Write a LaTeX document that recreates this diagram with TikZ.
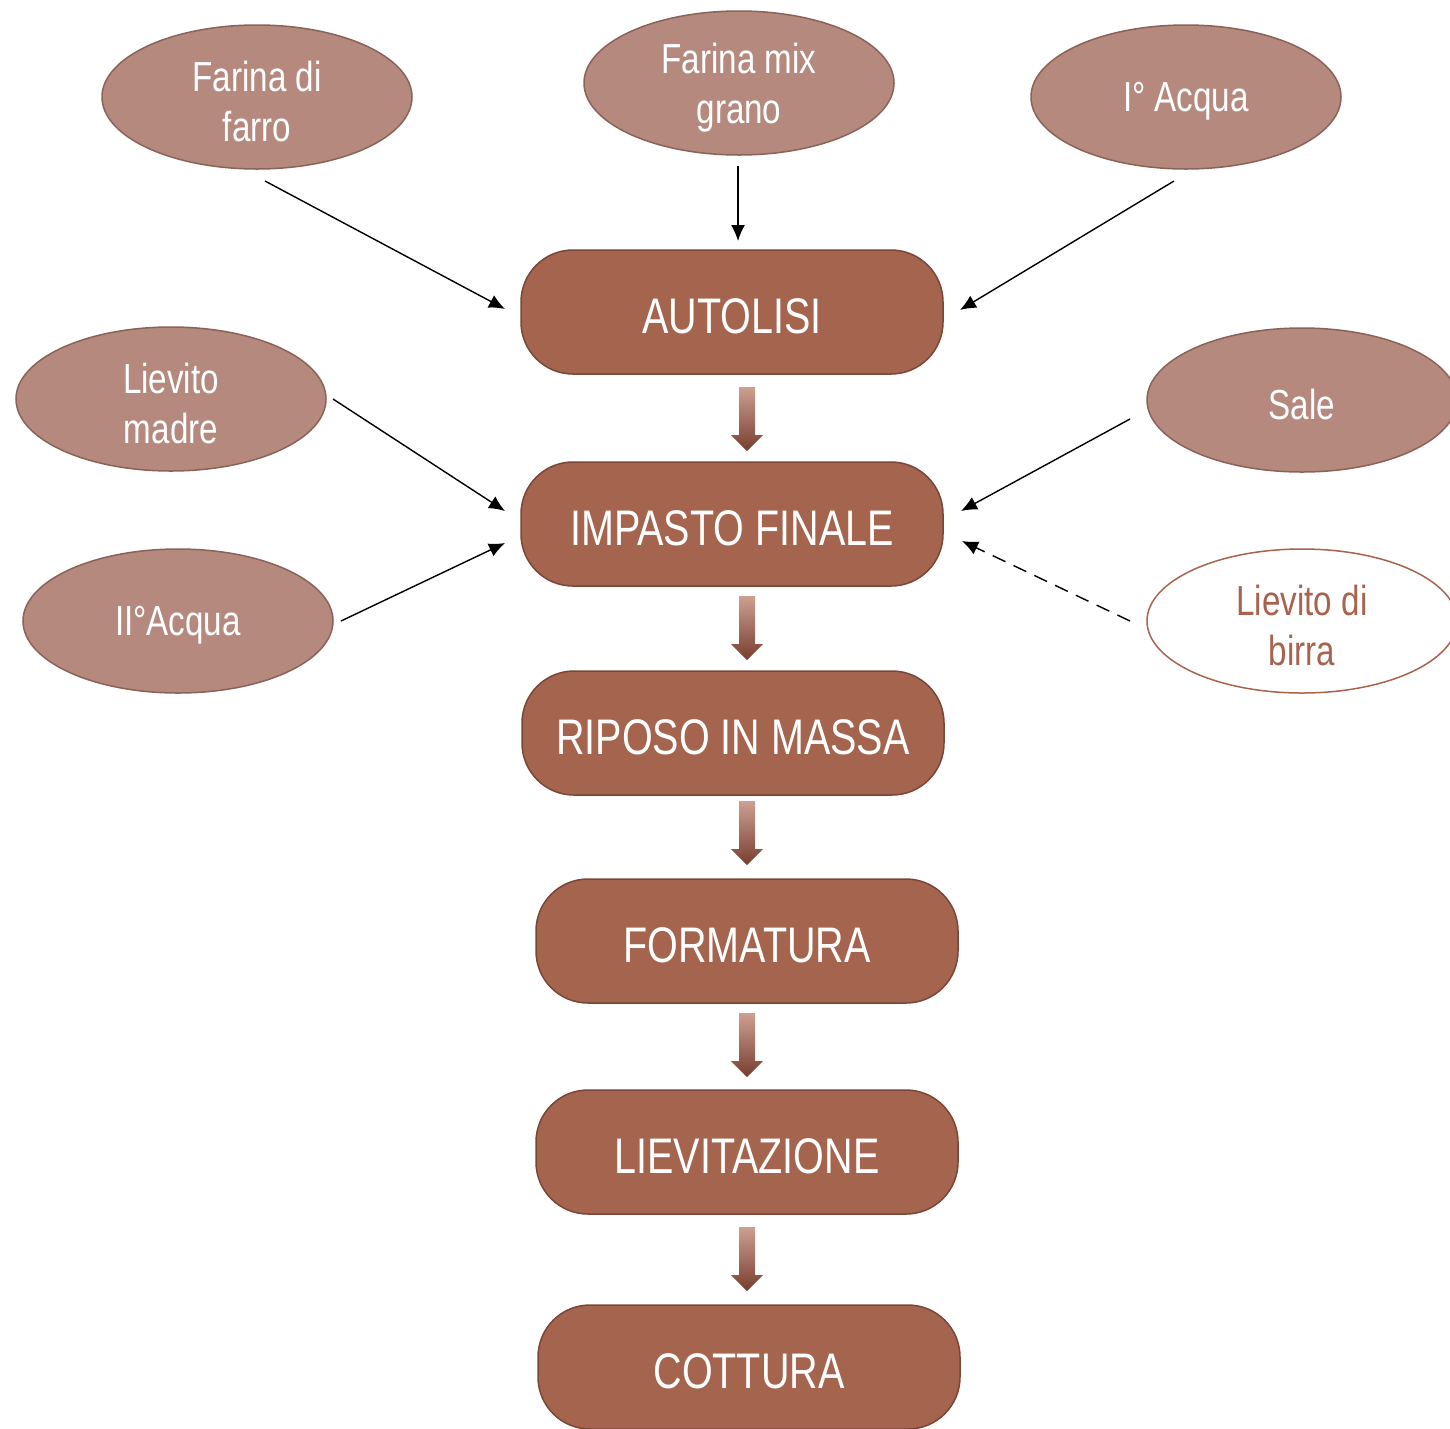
\documentclass[tikz,border=0pt]{standalone}
\usepackage{fontspec}
\setmainfont{Liberation Sans}[FakeStretch=0.79]
\usetikzlibrary{arrows.meta,shapes.geometric}
\definecolor{ellfill}{RGB}{181,137,125}
\definecolor{elldraw}{RGB}{139,98,88}
\definecolor{boxfill}{RGB}{164,100,78}
\definecolor{boxdraw}{RGB}{122,70,55}
\definecolor{birra}{RGB}{168,99,78}
\definecolor{arrtop}{RGB}{205,160,145}
\definecolor{arrbot}{RGB}{120,62,46}
\newcommand\lowstrut{\rule{0pt}{39pt}}
\tikzset{
  ingrbase/.style={ellipse, draw=elldraw, fill=ellfill, line width=1.5pt, minimum width=310pt, minimum height=144pt, inner sep=0pt, text=white, font=\fontsize{42}{50}\selectfont, align=center},
  ingr/.style={ingrbase, text height=38.5pt},
  ingrtwo/.style={ingrbase},
  ingrw/.style={ingrtwo, fill=white, draw=birra, text=birra},
  stepbox/.style={rectangle, rounded corners=52pt, draw=boxdraw, fill=boxfill, line width=1.5pt, minimum width=422pt, minimum height=124pt, text=white, font=\fontsize{50}{60}\selectfont, text height=43pt, text depth=0pt},
  feed/.style={line width=1.4pt, -{Latex[length=16pt,width=14pt]}},
  blockdown/.pic={\shade[top color=arrtop, bottom color=arrbot] (-8,0) -- (8,0) -- (8,48) -- (16,48) -- (0,64) -- (-16,48) -- (-8,48) -- cycle;}
}
\begin{document}
\begin{tikzpicture}[x=1pt,y=-1pt]
\useasboundingbox (0,0) rectangle (1450,1428);
\clip (0,0) rectangle (1450,1428);
% ingredients
\node[ingrtwo] (farro) at (257,97) {\lowstrut Farina di\\farro};
\node[ingrtwo] (mix) at (739,83) {\lowstrut Farina mix\\grano};
\node[ingr] (acqua1) at (1186,97) {I° Acqua};
\node[ingrtwo] (madre) at (171,399) {\lowstrut Lievito\\madre};
\node[ingr] (acqua2) at (178,621) {II°Acqua};
\node[ingr] (sale) at (1302,400) {Sale};
\node[ingrw] (birra) at (1302,621) {\lowstrut Lievito di\\birra};
% steps
\node[stepbox] (autolisi) at (732,312) {AUTOLISI};
\node[stepbox] (impasto) at (732,524) {IMPASTO FINALE};
\node[stepbox] (riposo) at (733,733) {RIPOSO IN MASSA};
\node[stepbox] (formatura) at (747,941) {FORMATURA};
\node[stepbox] (lievitazione) at (747,1152) {LIEVITAZIONE};
\node[stepbox] (cottura) at (749,1367) {COTTURA};
% block arrows
\pic at (747,387) {blockdown};
\pic at (747,596) {blockdown};
\pic at (747,801) {blockdown};
\pic at (747,1013) {blockdown};
\pic at (747,1227) {blockdown};
% connector ends
\coordinate (farroS) at (265,181);
\coordinate (farroE) at (505,309);
\coordinate (mixS) at (738,166);
\coordinate (mixE) at (738,241);
\coordinate (acqua1S) at (1174,181);
\coordinate (acqua1E) at (960,310);
\coordinate (madreS) at (333,399);
\coordinate (madreE) at (505,511);
\coordinate (acqua2S) at (341,621);
\coordinate (acqua2E) at (505,543);
\coordinate (saleS) at (1130,419);
\coordinate (saleE) at (961,511);
\coordinate (birraS) at (1130,621);
\coordinate (birraE) at (962,541);
\draw[feed] (farroS) -- (farroE);
\draw[feed] (mixS) -- (mixE);
\draw[feed] (acqua1S) -- (acqua1E);
\draw[feed] (madreS) -- (madreE);
\draw[feed] (acqua2S) -- (acqua2E);
\draw[feed] (saleS) -- (saleE);
\draw[feed, dash pattern=on 14pt off 9pt] (birraS) -- (birraE);
\end{tikzpicture}
\end{document}
